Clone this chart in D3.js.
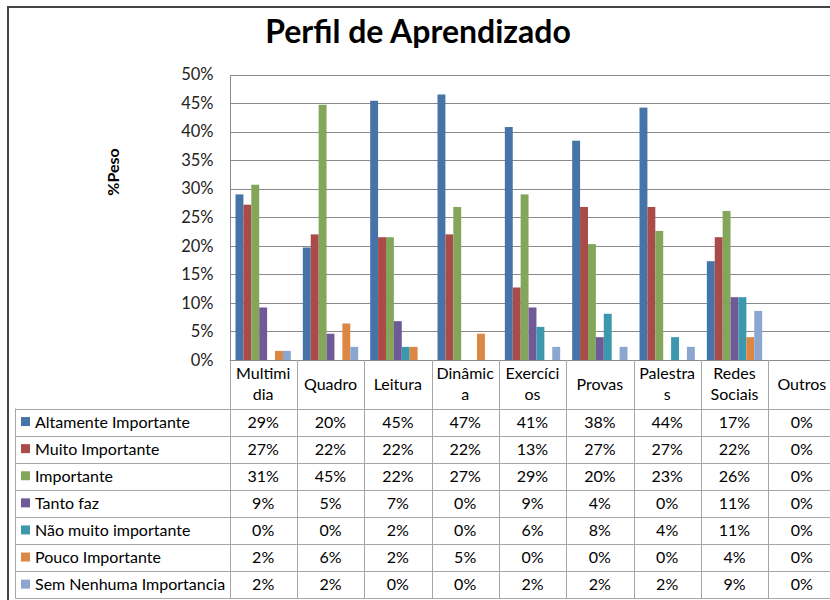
<!DOCTYPE html>
<html><head><meta charset="utf-8">
<script src="https://cdn.jsdelivr.net/npm/d3@7/dist/d3.min.js"></script>
<style>body{margin:0;background:#fff;}svg{display:block;font-family:Lato,"Open Sans",sans-serif;}</style>
</head><body><svg id="c" width="830" height="600"></svg>
<script>
const categories = ["Multimidia","Quadro","Leitura","Dinâmica","Exercícios","Provas","Palestras","Redes Sociais","Outros"];
const categoryLines = [["Multimi","dia"],["Quadro"],["Leitura"],["Dinâmic","a"],["Exercíci","os"],["Provas"],["Palestra","s"],["Redes","Sociais"],["Outros"]];
const seriesNames = ["Altamente Importante","Muito Importante","Importante","Tanto faz","Não muito importante","Pouco Importante","Sem Nenhuma Importancia"];
const seriesColors = ["#4674A8","#A84B49","#84A65A","#6F5A97","#3C98AC","#DC8744","#8CA7CF"];
// bar heights
const altamente = [0.290,0.197,0.454,0.465,0.408,0.384,0.442,0.173,0];
const muito     = [0.272,0.220,0.215,0.220,0.127,0.268,0.268,0.215,0];
const importante= [0.307,0.447,0.215,0.268,0.290,0.203,0.226,0.261,0];
const tantoFaz  = [0.092,0.046,0.068,0,0.092,0.040,0,0.110,0];
const naoMuito  = [0,0,0.023,0,0.058,0.081,0.040,0.110,0];
const pouco     = [0.016,0.064,0.023,0.046,0,0,0,0.040,0];
const semNenhuma= [0.016,0.023,0,0,0.023,0.023,0.023,0.086,0];
const seriesValues = [altamente,muito,importante,tantoFaz,naoMuito,pouco,semNenhuma];
// table labels (as printed)
const tableLabels = [
 ["29%","20%","45%","47%","41%","38%","44%","17%","0%"],
 ["27%","22%","22%","22%","13%","27%","27%","22%","0%"],
 ["31%","45%","22%","27%","29%","20%","23%","26%","0%"],
 ["9%","5%","7%","0%","9%","4%","0%","11%","0%"],
 ["0%","0%","2%","0%","6%","8%","4%","11%","0%"],
 ["2%","6%","2%","5%","0%","0%","0%","4%","0%"],
 ["2%","2%","0%","0%","2%","2%","2%","9%","0%"]
];
const yTicks = [0,0.05,0.10,0.15,0.20,0.25,0.30,0.35,0.40,0.45,0.50];

const svg = d3.select("#c");
svg.append("rect").attr("width",830).attr("height",600).attr("fill","#fff");
// outer chart border
svg.append("rect").attr("x",8).attr("y",7).attr("width",900).attr("height",700)
  .attr("fill","none").attr("stroke","#444").attr("stroke-width",2);

svg.append("text").attr("x",418).attr("y",43).attr("text-anchor","middle")
  .attr("font-size",32).attr("font-weight","bold").attr("fill","#000").text("Perfil de Aprendizado");

const pLeft = 229.5, pRight = 835.5, pTop = 74.5, pBottom = 360;
const x0 = d3.scaleBand().domain(categories).range([pLeft,pRight]).padding(0);
const x1 = d3.scaleBand().domain(seriesNames).range([0,x0.bandwidth()]).paddingInner(0).paddingOuter(0.76);
const y = d3.scaleLinear().domain([0,0.5]).range([pBottom,pTop]);

// gridlines
const grid = svg.append("g").attr("transform",`translate(${pLeft},0)`)
  .call(d3.axisLeft(y).tickValues(yTicks.slice(1)).tickSize(-(pRight-pLeft)).tickFormat(""));
grid.select(".domain").remove();
grid.selectAll("line").attr("stroke","#8a8a8a").attr("shape-rendering","crispEdges");

// y axis
const ya = svg.append("g").attr("transform",`translate(${pLeft},0)`)
  .call(d3.axisLeft(y).tickValues(yTicks).tickSize(0).tickPadding(16).tickFormat(d3.format(".0%")));
ya.select(".domain").attr("stroke","#8a8a8a").attr("shape-rendering","crispEdges");
ya.selectAll("text").attr("font-size",16.5).attr("fill","#222").attr("font-family","Lato,sans-serif");

svg.append("text").attr("transform","translate(119,172) rotate(-90)").attr("text-anchor","middle")
  .attr("font-size",16).attr("font-weight","bold").attr("fill","#000").text("%Peso");

// bars
seriesValues.forEach((vals,si)=>{
  svg.append("g").selectAll("rect").data(vals.map((v,i)=>({v,c:categories[i]}))).join("rect")
    .attr("x",d=>x0(d.c)+x1(seriesNames[si]))
    .attr("width",x1.bandwidth())
    .attr("y",d=>y(d.v)).attr("height",d=>pBottom-y(d.v))
    .attr("fill",seriesColors[si]);
});

// data table
const tableLeft = 15.5, headerBottom = 408.5, rowH = 27.1;
const lineColor = "#a6a6a6";
const fs = 16;
const tbl = svg.append("g");
tbl.append("line").attr("x1",pLeft).attr("x2",pRight).attr("y1",pBottom+0.5).attr("y2",pBottom+0.5).attr("stroke","#8a8a8a");
for(let r=0;r<=seriesNames.length;r++){
  const yy = Math.round(headerBottom + r*rowH)+0.5;
  tbl.append("line").attr("x1",tableLeft).attr("x2",pRight).attr("y1",yy).attr("y2",yy).attr("stroke",lineColor);
}
const tableBottom = Math.round(headerBottom + seriesNames.length*rowH)+0.5;
tbl.append("line").attr("x1",tableLeft).attr("x2",tableLeft).attr("y1",headerBottom).attr("y2",tableBottom).attr("stroke",lineColor);
categories.forEach(c=>{
  const xx = Math.round(x0(c))+0.5;
  tbl.append("line").attr("x1",xx).attr("x2",xx).attr("y1",pBottom).attr("y2",tableBottom).attr("stroke",lineColor);
});
categories.forEach((c,i)=>{
  const cx = x0(c)+x0.bandwidth()/2;
  const lines = categoryLines[i];
  const baselines = lines.length===2 ? [379,400] : [390];
  lines.forEach((t,k)=>{
    tbl.append("text").attr("x",cx).attr("y",baselines[k]).attr("text-anchor","middle")
      .attr("font-size",fs).attr("fill","#000").text(t);
  });
});
seriesNames.forEach((s,r)=>{
  const cy = headerBottom + r*rowH + rowH/2;
  tbl.append("rect").attr("x",21).attr("y",cy-5).attr("width",9).attr("height",9).attr("fill",seriesColors[r]);
  tbl.append("text").attr("x",35).attr("y",cy+5.5).attr("font-size",fs).attr("fill","#000").text(s);
  categories.forEach((c,i)=>{
    tbl.append("text").attr("x",x0(c)+x0.bandwidth()/2).attr("y",cy+5.5).attr("text-anchor","middle")
      .attr("font-size",fs).attr("fill","#000").text(tableLabels[r][i]);
  });
});
</script></body></html>
